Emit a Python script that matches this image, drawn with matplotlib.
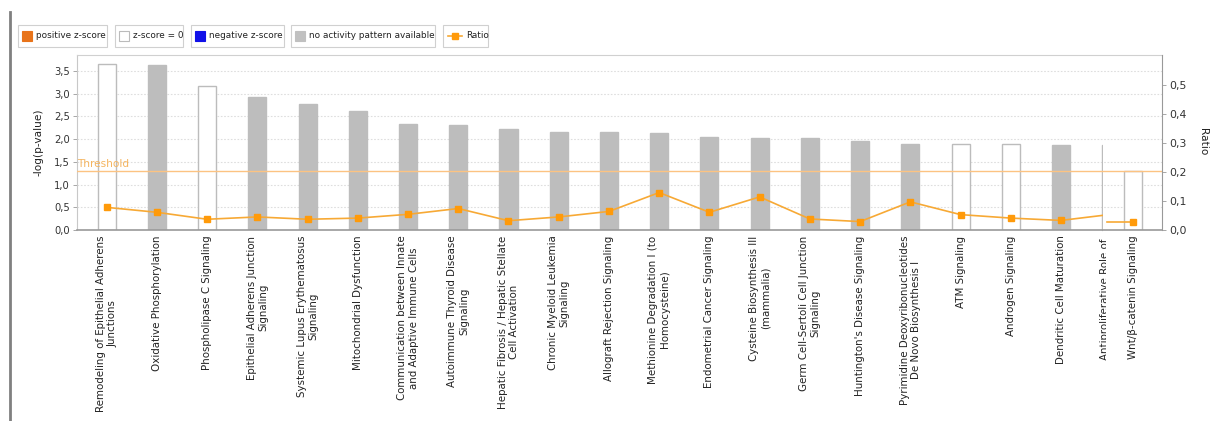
import numpy as np
import matplotlib
matplotlib.use("Agg")
import matplotlib.pyplot as plt
from matplotlib.patches import Rectangle
from matplotlib.lines import Line2D
from matplotlib.transforms import Bbox, TransformedBbox
from matplotlib.ticker import FuncFormatter, MultipleLocator, FixedLocator

plt.rcParams['font.family'] = ['DejaVu Sans']

# ---------------- data ----------------
categories = [
    "Remodeling of Epithelial Adherens\nJunctions",
    "Oxidative Phosphorylation",
    "Phospholipase C Signaling",
    "Epithelial Adherens Junction\nSignaling",
    "Systemic Lupus Erythematosus\nSignaling",
    "Mitochondrial Dysfunction",
    "Communication between Innate\nand Adaptive Immune Cells",
    "Autoimmune Thyroid Disease\nSignaling",
    "Hepatic Fibrosis / Hepatic Stellate\nCell Activation",
    "Chronic Myeloid Leukemia\nSignaling",
    "Allograft Rejection Signaling",
    "Methionine Degradation I (to\nHomocysteine)",
    "Endometrial Cancer Signaling",
    "Cysteine Biosynthesis III\n(mammalia)",
    "Germ Cell-Sertoli Cell Junction\nSignaling",
    "Huntington's Disease Signaling",
    "Pyrimidine Deoxyribonucleotides\nDe Novo Biosynthesis I",
    "ATM Signaling",
    "Androgen Signaling",
    "Dendritic Cell Maturation",
    "Antiproliferative Role of\nSomatostatin Receptor 2",
    "Wnt/\u03b2-catenin Signaling",
]
neg_log_p = [3.66, 3.64, 3.16, 2.92, 2.77, 2.62, 2.34, 2.31, 2.23, 2.16, 2.16,
             2.13, 2.05, 2.03, 2.03, 1.96, 1.90, 1.90, 1.90, 1.88, 1.87, 1.30]
ratio = [0.078, 0.061, 0.037, 0.045, 0.037, 0.041, 0.054, 0.074, 0.032, 0.045,
         0.064, 0.129, 0.061, 0.114, 0.038, 0.029, 0.097, 0.053, 0.041, 0.033,
         0.054, 0.028]
# z-score category: 'zero' (white), 'none' (no activity pattern, grey)
zcat = ['zero', 'none', 'zero', 'none', 'none', 'none', 'none', 'none', 'none',
        'none', 'none', 'none', 'none', 'none', 'none', 'none', 'none', 'zero',
        'zero', 'none', 'zero', 'zero']
threshold = 1.301
ratio_ticks = [0.0, 0.1, 0.2, 0.3, 0.4, 0.5]

legend_labels = ["positive z-score", "z-score = 0", "negative z-score",
                 "no activity pattern available", "Ratio"]

# ---------------- style ----------------
W, H = 1211, 421
GREY = "#bdbdbd"
EDGE_W = "#bcbcbc"
ORANGE = "#f7a935"
MARK = "#ff9a0a"
THR = "#fcc382"

fig = plt.figure(figsize=(W / 100, H / 100), dpi=100)
fig.patch.set_facecolor("white")

def fx(px):
    return px / W

def fy(py):
    return 1 - py / H

ax = fig.add_axes([fx(77), fy(230), fx(1162) - fx(77), fy(55) - fy(230)])
ax2 = ax.twinx()

n = len(categories)
pos = np.arange(n, dtype=float)
pos[-1] = 20.44          # last bar is drawn squeezed in the reference
bw = 0.36
clip_x = 19.84           # rendering is clipped at the left edge of bar 21

colors = [GREY if z == 'none' else 'white' for z in zcat]
edges = [GREY if z == 'none' else EDGE_W for z in zcat]
bars = ax.bar(pos, neg_log_p, width=bw, color=colors, edgecolor=edges,
              linewidth=1.0, zorder=2)

ax.set_xlim(-0.59, 21.01)
ax.set_ylim(0, 3.85)
ax2.set_ylim(0, 0.603)

clipbox = TransformedBbox(Bbox([[-5, -10], [clip_x, 10]]), ax.transData)
bars[n - 2].set_clip_box(clipbox)

# grid
ax.yaxis.set_major_locator(MultipleLocator(0.5))
for yv in np.arange(0.5, 3.6, 0.5):
    ax.axhline(yv, color="#dedede", lw=0.8, ls=(0, (1.5, 1.5)), zorder=0)

# threshold
ax.axhline(threshold, color=THR, lw=1.0, zorder=3)
ax.text(0.0, threshold + 0.04, "Threshold", transform=ax.get_yaxis_transform(),
        color="#f5b560", fontsize=7.6, ha="left", va="bottom", zorder=3)

# ratio line
ln, = ax2.plot(pos[:n - 1], ratio[:n - 1], color=ORANGE, lw=1.2, marker='s',
               markersize=5, markerfacecolor=MARK, markeredgecolor=MARK,
               zorder=4)
ln.set_clip_box(TransformedBbox(Bbox([[-5, -10], [clip_x, 10]]), ax.transData))
ax2.plot([19.92, pos[-1]], [ratio[-1], ratio[-1]], color=ORANGE, lw=1.2, zorder=4)
ax2.plot([pos[-1]], [ratio[-1]], marker='s', markersize=5, color=MARK, zorder=5)

# axes styling
comma = FuncFormatter(lambda v, p: f"{v:.1f}".replace('.', ','))
ax.yaxis.set_major_formatter(comma)
ax2.yaxis.set_major_locator(FixedLocator(ratio_ticks))
ax2.yaxis.set_major_formatter(comma)

for a in (ax, ax2):
    for s in a.spines.values():
        s.set_visible(False)
ax.spines['left'].set_visible(True)
ax.spines['left'].set_color("#c8c8c8")
ax.spines['top'].set_visible(True)
ax.spines['top'].set_color("#d0d0d0")
ax2.spines['right'].set_visible(True)
ax2.spines['right'].set_color("#999999")
ax2.spines['bottom'].set_visible(True)
ax2.spines['bottom'].set_color("#999999")
ax2.spines['bottom'].set_linewidth(1.2)

ax.tick_params(axis='y', labelsize=7.2, colors="#333333", length=3,
               width=0.6, pad=2)
ax.tick_params(axis='y', color="#999999")
ax2.tick_params(axis='y', labelsize=7.8, colors="#333333", length=3,
                width=0.6, pad=2)
ax2.tick_params(axis='y', color="#999999")

ax.set_xticks(pos)
ax.set_xticklabels(categories, rotation=90, fontsize=7.4, color="#222222",
                   ha='center', va='top', multialignment='center')
ax.tick_params(axis='x', length=0, pad=4)
lbl = ax.get_xticklabels()[n - 2]
lbl.set_clip_box(TransformedBbox(Bbox([[-5, -10], [19.9, 10]]), ax.transData))
lbl.set_clip_on(True)

ax.set_ylabel("-log(p-value)", fontsize=7.6, color="#222222", labelpad=8)
fig.text(fx(1203), fy(142), "Ratio", rotation=270, fontsize=7.6,
         color="#222222", ha='center', va='center')

# ---------------- legend (boxed items) ----------------
boxes = [(18, 107), (115, 183), (191, 284), (291, 435), (443, 488)]
ytop, ybot = 25, 46.5
icons = ['pos', 'zero', 'neg', 'none', 'ratio']
for (x0, x1), lab, ic in zip(boxes, legend_labels, icons):
    fig.patches.append(Rectangle((fx(x0), fy(ybot)), fx(x1) - fx(x0),
                                 fy(ytop) - fy(ybot), transform=fig.transFigure,
                                 facecolor='white', edgecolor="#d0d0d0", lw=0.8))
    cy = (ytop + ybot) / 2
    if ic == 'ratio':
        fig.lines.append(Line2D([fx(x0 + 5), fx(x0 + 19)], [fy(cy), fy(cy)],
                                transform=fig.transFigure, color=ORANGE, lw=1.2))
        fig.lines.append(Line2D([fx(x0 + 12)], [fy(cy)], transform=fig.transFigure,
                                marker='s', markersize=4.5, color=MARK))
        tx = x0 + 23
    else:
        fc = {'pos': '#e8731a', 'zero': 'white', 'neg': '#1010e8',
              'none': '#c0c0c0'}[ic]
        ec = {'pos': '#e8731a', 'zero': '#bbbbbb', 'neg': '#1010e8',
              'none': '#c0c0c0'}[ic]
        fig.patches.append(Rectangle((fx(x0 + 4), fy(cy + 5)), fx(10), fy(0) - fy(10),
                                     transform=fig.transFigure, facecolor=fc,
                                     edgecolor=ec, lw=0.8))
        tx = x0 + 18
    fig.text(fx(tx), fy(cy), lab, fontsize=6.4, color="#222222",
             ha='left', va='center')

# left border of panel
fig.lines.append(Line2D([fx(9.5), fx(9.5)], [fy(12), fy(421)],
                        transform=fig.transFigure, color="#808080", lw=2))

fig.savefig("out.png", dpi=100)
